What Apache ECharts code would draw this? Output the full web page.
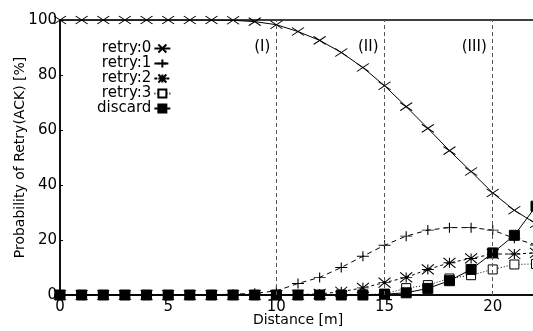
<!DOCTYPE html>
<html>
<head>
<meta charset="utf-8">
<script src="https://cdn.jsdelivr.net/npm/echarts@6/dist/echarts.min.js"></script>
<style>
  html, body { margin: 0; padding: 0; background: #fff; }
  #chart { width: 533px; height: 331px; }
</style>
</head>
<body>
<div id="chart"></div>
<script>
const distance = [0, 1, 2, 3, 4, 5, 6, 7, 8, 9, 10, 11, 12, 13, 14, 15, 16, 17, 18, 19, 20, 21, 22];
const retry0 = [100, 100, 100, 100, 100, 100, 100, 100, 99.9, 99.4, 98.3, 95.8, 92.6, 88.2, 82.7, 76.1, 68.5, 60.6, 52.5, 44.9, 37.1, 30.8, 25.9];
const retry1 = [0, 0, 0, 0, 0, 0, 0, 0.1, 0.3, 0.6, 1.5, 4.2, 6.4, 10.0, 14.1, 18.1, 21.4, 23.6, 24.5, 24.5, 23.6, 20.6, 18.2];
const retry2 = [0, 0, 0, 0, 0, 0, 0, 0, 0, 0, 0, 0.1, 0.4, 1.2, 2.6, 4.5, 6.4, 9.3, 11.7, 13.3, 14.9, 14.9, 15.3];
const retry3 = [0, 0, 0, 0, 0, 0, 0, 0, 0, 0, 0, 0, 0, 0, 0.1, 0.4, 2.5, 3.6, 6.0, 7.2, 9.3, 11.1, 11.3];
const discard = [0, 0, 0, 0, 0, 0, 0, 0, 0, 0, 0, 0, 0, 0, 0, 0.3, 0.8, 2.4, 5.2, 9.3, 15.3, 21.7, 32.3];

const regionBounds = [10, 15, 20];
const regionNames = ["(I)", "(II)", "(III)"];
const regionLabelY = 90;

const FONT = "DejaVu Sans";

function pairs(ys) {
  return distance.map((x, i) => [x, ys[i]]);
}

function initChart(chartDom) {
  var myChart = echarts.init(chartDom);

  var crossPath = "path://M0,0L10,10M10,0L0,10";
  var plusPath = "path://M5,0L5,10M0,5L10,5";
  var starPath = "path://M0,0L10,10M10,0L0,10M5,0L5,10M0,5L10,5";

  function lineSeries(name, ys, symbol, size, dash, fill) {
    return {
      name: name,
      type: "line",
      data: pairs(ys),
      symbol: symbol,
      symbolSize: size,
      showAllSymbol: true,
      lineStyle: { color: "#000", width: 1, type: dash },
      itemStyle: { color: fill, borderColor: "#000", borderWidth: 1 },
      emphasis: { disabled: true },
      animation: false,
    };
  }

  var option = {
    animation: false,
    textStyle: { fontFamily: FONT },
    grid: {
      left: 60,
      right: -3,
      top: 20,
      bottom: 36,
      outerBoundsMode: "none",
      containLabel: false,
      show: true,
      borderColor: "#000",
      borderWidth: 1.5,
    },
    legend: {
      orient: "vertical",
      left: 92,
      top: 36,
      align: "right",
      itemGap: 0,
      itemWidth: 16,
      itemHeight: 10,
      textStyle: { fontFamily: FONT, fontSize: 15, color: "#000", width: 64, align: "right", padding: [0, -2, 0, 0] },
      data: ["retry:0", "retry:1", "retry:2", "retry:3", "discard"],
    },
    xAxis: {
      type: "value",
      min: 0,
      max: 22,
      interval: 5,
      name: "Distance [m]",
      nameLocation: "middle",
      nameGap: 18,
      nameMoveOverlap: false,
      nameTextStyle: { fontFamily: FONT, fontSize: 14, color: "#000" },
      axisLine: { lineStyle: { color: "#000", width: 1.5 } },
      axisTick: { show: true, inside: true, length: 3, lineStyle: { color: "#000" } },
      axisLabel: { fontFamily: FONT, fontSize: 15, color: "#000", margin: 5, showMaxLabel: false },
      splitLine: { show: false },
    },
    yAxis: {
      type: "value",
      min: 0,
      max: 100,
      interval: 20,
      name: "Probability of Retry(ACK) [%]",
      nameLocation: "middle",
      nameGap: 33,
      nameMoveOverlap: false,
      nameTextStyle: { fontFamily: FONT, fontSize: 14, color: "#000" },
      axisLine: { show: true, lineStyle: { color: "#000", width: 1.5 } },
      axisTick: { show: true, inside: true, length: 3, lineStyle: { color: "#000" } },
      axisLabel: { fontFamily: FONT, fontSize: 15, color: "#000", margin: 3 },
      splitLine: { show: false },
    },
    series: [
      {
        name: "regions",
        type: "line",
        data: [],
        silent: true,
        markLine: {
          silent: true,
          symbol: "none",
          label: { show: false },
          lineStyle: { color: "#555", type: [4, 3], width: 1 },
          data: regionBounds.map((x) => ({ xAxis: x })),
        },
        markPoint: {
          symbol: "circle",
          symbolSize: 0,
          label: {
            show: true,
            position: "left",
            distance: 6,
            color: "#000",
            fontFamily: FONT,
            fontSize: 15,
            formatter: (p) => p.name,
          },
          data: regionBounds.map((x, i) => ({ name: regionNames[i], coord: [x, regionLabelY] })),
        },
      },
      lineSeries("retry:0", retry0, crossPath, [12, 8], "solid", "#000"),
      lineSeries("retry:1", retry1, plusPath, [12, 10], [5, 4], "#000"),
      lineSeries("retry:2", retry2, starPath, [12, 10], [3, 3], "#000"),
      lineSeries("retry:3", retry3, "rect", 9, [1, 2], "#fff"),
      lineSeries("discard", discard, "rect", 10, "solid", "#000"),
    ],
  };

  myChart.setOption(option);
}

initChart(document.getElementById("chart"));
</script>
</body>
</html>
